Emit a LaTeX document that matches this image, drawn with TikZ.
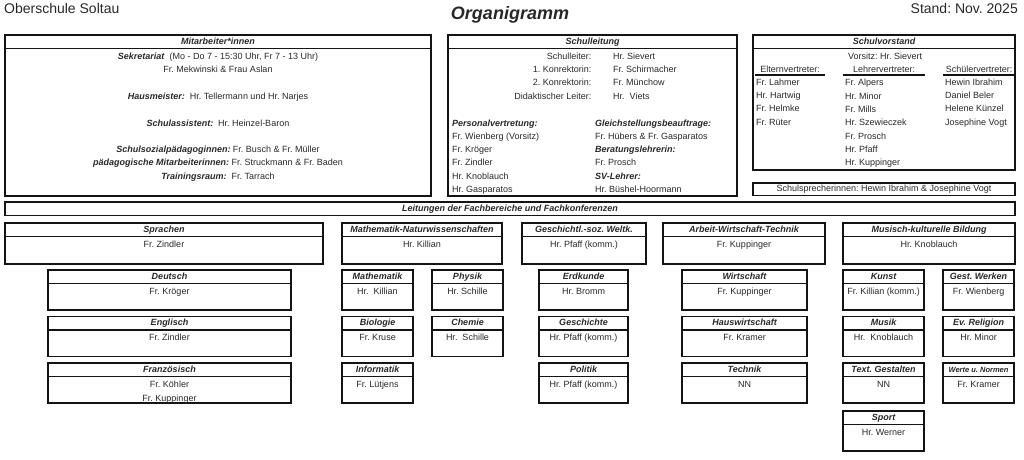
\documentclass[tikz,border=0pt]{standalone}
\usepackage{fontspec}
\setmainfont{Liberation Sans}
\usetikzlibrary{positioning}
\frenchspacing
\definecolor{Rahmen}{RGB}{20,20,20}
\definecolor{Schrift}{RGB}{40,40,40}
\tikzset{
  kopf/.style={draw=Rahmen, line width=1.2pt, minimum height=13.5pt,
    inner sep=0pt, outer sep=0pt, text height=6.6pt, text depth=1.9pt,
    font=\fontsize{9}{11}\selectfont\bfseries\itshape, text=Schrift},
  rumpf/.style={draw=Rahmen, line width=1.2pt, inner sep=0pt, outer sep=0pt},
  leiste/.style={draw=Rahmen, line width=1.2pt, minimum height=12.5pt,
    inner sep=0pt, outer sep=0pt, font=\fontsize{9}{11}\selectfont, text=Schrift},
  eintrag/.style={anchor=base, inner sep=0pt, font=\fontsize{9}{11}\selectfont,
    text=Schrift},
  links/.style={eintrag, anchor=base west},
  rechts/.style={eintrag, anchor=base east},
  strich/.style={draw=Rahmen, line width=1.4pt}
}
\newcommand{\rolle}[1]{\textbf{\textit{#1}}}
% name, x, y, breite, hoehe rumpf, kopf, inhalt
\newcommand{\fachbox}[7]{%
  \node[kopf, minimum width=#4pt, anchor=north west] (#1) at (#2,#3) {#6};
  \node[rumpf, minimum width=#4pt, minimum height=#5pt, below=0pt of #1] (#1-rumpf) {};
  \node[eintrag] (#1-name) at ([yshift=-10.8pt]#1.south) {#7};
}

\begin{document}
\begin{tikzpicture}[x=1pt, y=-1pt]
  \useasboundingbox (0,0) rectangle (1024,459);

  % Kopfzeile
  \node[anchor=base west, inner sep=0pt, text=Schrift, font=\fontsize{14}{16}\selectfont] (schule) at (4,13.3) {Oberschule Soltau};
  \node[anchor=base, inner sep=0pt, text=Schrift, font=\fontsize{18}{20}\selectfont\bfseries\itshape] (titel) at (510,19.3) {Organigramm};
  \node[anchor=base east, inner sep=0pt, text=Schrift, font=\fontsize{14}{16}\selectfont] (stand) at (1018,13.3) {Stand: Nov. 2025};

  % Mitarbeiter*innen
  \node[kopf, minimum width=426pt, anchor=north west] (mitarbeiter) at (5,35) {Mitarbeiter*innen};
  \node[rumpf, minimum width=426pt, minimum height=147.5pt, below=0pt of mitarbeiter] (mitarbeiter-rumpf) {};
  \node[eintrag] (sekretariat) at (218,59.3) {\rolle{Sekretariat}\ \ (Mo - Do 7 - 15:30 Uhr, Fr 7 - 13 Uhr)};
  \node[eintrag] (sekretariat-namen) at (218,72) {Fr. Mekwinski \& Frau Aslan};
  \node[eintrag] (hausmeister) at (218,99.3) {\rolle{Hausmeister:}\ \ Hr. Tellermann und Hr. Narjes};
  \node[eintrag] (assistent) at (218,126) {\rolle{Schulassistent:}\ \ Hr. Heinzel-Baron};
  \node[eintrag] (sozial) at (218,152.6) {\rolle{Schulsozialpädagoginnen:}\ Fr. Busch \& Fr. Müller};
  \node[eintrag] (paed) at (218,165.9) {\rolle{pädagogische Mitarbeiterinnen:}\ Fr. Struckmann \& Fr. Baden};
  \node[eintrag] (training) at (218,179.2) {\rolle{Trainingsraum:}\ \ Fr. Tarrach};

  % Schulleitung
  \node[kopf, minimum width=289pt, anchor=north west] (leitung) at (448,35) {Schulleitung};
  \node[rumpf, minimum width=289pt, minimum height=147.5pt, below=0pt of leitung] (leitung-rumpf) {};
  \foreach \amt/\name [count=\i] in {Schulleiter:/Hr. Sievert, 1. Konrektorin:/Fr. Schirmacher,
      2. Konrektorin:/Fr. Münchow, Didaktischer Leiter:/Hr.\ \ Viets} {
    \node[rechts] (amt-\i) at (591.5,59.3+13.3*\i-13.3) {\amt};
    \node[links] (amtname-\i) at (613,59.3+13.3*\i-13.3) {\name};
  }
  \node[links] (personal) at (452,126) {\rolle{Personalvertretung:}};
  \foreach \name [count=\i] in {Fr. Wienberg (Vorsitz), Fr. Kröger, Fr. Zindler,
      Hr. Knoblauch, Hr. Gasparatos}
    \node[links] (personal-\i) at (452,126+13.3*\i) {\name};
  \node[links] (gleich) at (595,126) {\rolle{Gleichstellungsbeauftrage:}};
  \node[links] (gleich-namen) at (595,139.3) {Fr. Hübers \& Fr. Gasparatos};
  \node[links] (beratung) at (595,152.6) {\rolle{Beratungslehrerin:}};
  \node[links] (beratung-name) at (595,165.9) {Fr. Prosch};
  \node[links] (sv) at (595,179.2) {\rolle{SV-Lehrer:}};
  \node[links] (sv-name) at (595,192.5) {Hr. Büshel-Hoormann};

  % Schulvorstand
  \node[kopf, minimum width=262pt, anchor=north west] (vorstand) at (753,35) {Schulvorstand};
  \node[rumpf, minimum width=262pt, minimum height=121.5pt, below=0pt of vorstand] (vorstand-rumpf) {};
  \node[eintrag] (vorsitz) at (885,59.3) {Vorsitz: Hr. Sievert};
  \node[eintrag] (eltern) at (790,72) {Elternvertreter:};
  \node[eintrag] (lehrer) at (884,72) {Lehrervertreter:};
  \node[eintrag] (schueler) at (979,72) {Schülervertreter:};
  \draw[strich] (755,75) -- (825,75);
  \draw[strich] (843,75) -- (925,75);
  \draw[strich] (943,75) -- (1015,75);
  \foreach \name [count=\i] in {Fr. Lahmer, Hr. Hartwig, Fr. Helmke, Fr. Rüter}
    \node[links] (eltern-\i) at (756,72+13.3*\i) {\name};
  \foreach \name [count=\i] in {Fr. Alpers, Hr. Minor, Fr. Mills, Hr. Szewieczek,
      Fr. Prosch, Hr. Pfaff, Hr. Kuppinger}
    \node[links] (lehrer-\i) at (845,72.6+13.3*\i) {\name};
  \foreach \name [count=\i] in {Hewin Ibrahim, Daniel Beler, Helene Künzel, Josephine Vogt}
    \node[links] (schueler-\i) at (945,72+13.3*\i) {\name};

  \node[leiste, minimum width=262pt, anchor=north west] (sprecher) at (753,183)
    {Schulsprecherinnen: Hewin Ibrahim \& Josephine Vogt};

  % Fachbereiche
  \node[kopf, minimum width=1010pt, anchor=north west] (fachbereiche) at (5,202)
    {Leitungen der Fachbereiche und Fachkonferenzen};

  \fachbox{sprachen}{5}{223}{318}{27.5}{Sprachen}{Fr. Zindler}
  \fachbox{matnat}{342}{223}{160}{27.5}{Mathematik-Naturwissenschaften}{Hr. Killian}
  \fachbox{gsw}{522}{223}{124}{27.5}{Geschichtl.-soz. Weltk.}{Hr. Pfaff (komm.)}
  \fachbox{awt}{663}{223}{162}{27.5}{Arbeit-Wirtschaft-Technik}{Fr. Kuppinger}
  \fachbox{muku}{843}{223}{172}{27.5}{Musisch-kulturelle Bildung}{Hr. Knoblauch}

  % Faecher
  \fachbox{deutsch}{48}{270}{243}{26.5}{Deutsch}{Fr. Kröger}
  \fachbox{englisch}{48}{316.5}{243}{26.5}{Englisch}{Fr. Zindler}
  \fachbox{franz}{48}{363}{243}{26.5}{Französisch}{Fr. Köhler}
  \node[eintrag] (franz-name2) at ([yshift=-14pt]franz-name.base) {Fr. Kuppinger};

  \fachbox{mathe}{342}{270}{71}{26.5}{Mathematik}{Hr.\ \ Killian}
  \fachbox{bio}{342}{316.5}{71}{26.5}{Biologie}{Fr. Kruse}
  \fachbox{info}{342}{363}{71}{26.5}{Informatik}{Fr. Lütjens}

  \fachbox{physik}{432}{270}{71}{26.5}{Physik}{Hr. Schille}
  \fachbox{chemie}{432}{316.5}{71}{26.5}{Chemie}{Hr.\ \ Schille}

  \fachbox{erdkunde}{539}{270}{89}{26.5}{Erdkunde}{Hr. Bromm}
  \fachbox{geschichte}{539}{316.5}{89}{26.5}{Geschichte}{Hr. Pfaff (komm.)}
  \fachbox{politik}{539}{363}{89}{26.5}{Politik}{Hr. Pfaff (komm.)}

  \fachbox{wirtschaft}{682}{270}{125}{26.5}{Wirtschaft}{Fr. Kuppinger}
  \fachbox{hauswirtschaft}{682}{316.5}{125}{26.5}{Hauswirtschaft}{Fr. Kramer}
  \fachbox{technik}{682}{363}{125}{26.5}{Technik}{NN}

  \fachbox{kunst}{843}{270}{81}{26.5}{Kunst}{Fr. Killian (komm.)}
  \fachbox{musik}{843}{316.5}{81}{26.5}{Musik}{Hr.\ \ Knoblauch}
  \fachbox{textil}{843}{363}{81}{26.5}{Text. Gestalten}{NN}
  \fachbox{sport}{843}{411}{81}{26.5}{Sport}{Hr. Werner}

  \fachbox{werken}{943}{270}{71}{26.5}{Gest. Werken}{Fr. Wienberg}
  \fachbox{religion}{943}{316.5}{71}{26.5}{Ev. Religion}{Hr. Minor}
  \fachbox{werte}{943}{363}{71}{26.5}{{\fontsize{7.5}{9}\selectfont Werte u. Normen}}{Fr. Kramer}
\end{tikzpicture}
\end{document}
